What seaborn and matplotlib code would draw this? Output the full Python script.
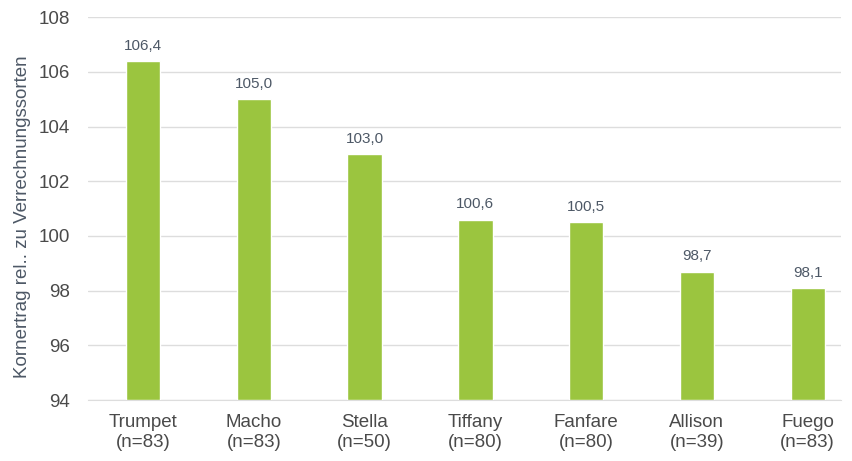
import matplotlib
matplotlib.use("Agg")
import matplotlib.pyplot as plt
import seaborn as sns
import pandas as pd

sorten = ["Trumpet", "Macho", "Stella", "Tiffany", "Fanfare", "Allison", "Fuego"]
n_werte = [83, 83, 50, 80, 80, 39, 83]
ertrag_rel = [106.4, 105.0, 103.0, 100.6, 100.5, 98.7, 98.1]
y_ticks = [94, 96, 98, 100, 102, 104, 106, 108]

df = pd.DataFrame({
    "label": [f"{s}\n(n={n})" for s, n in zip(sorten, n_werte)],
    "wert": ertrag_rel,
})

sns.set_style("white")
plt.rcParams["font.family"] = ["Liberation Sans", "DejaVu Sans"]

txt = "#4d5866"
fig = plt.figure(figsize=(8.52, 4.61), dpi=100)
ax = fig.add_axes([0.103, 0.132, 0.884, 0.831])

sns.barplot(data=df, x="label", y="wert", color="#9bc53f", saturation=1,
            width=0.31, ax=ax, zorder=3)

# Balken ab 94 zeichnen
for p in ax.patches:
    h = p.get_height()
    p.set_y(94)
    p.set_height(h - 94)

ax.set_ylim(94, 108)
ax.set_xlim(-0.5, 6.3)
ax.set_yticks(y_ticks)
ax.yaxis.grid(True, color="#dddddd", linewidth=1, zorder=0)
for s in ["top", "right", "left"]:
    ax.spines[s].set_visible(False)
ax.spines["bottom"].set_color("#dddddd")

for i, v in enumerate(ertrag_rel):
    ax.text(i, v + 0.3, f"{v:.1f}".replace(".", ","), ha="center", va="bottom",
            fontsize=11, color=txt)

ax.set_xlabel("")
ax.set_ylabel("Kornertrag rel.. zu Verrechnungssorten", fontsize=13.5, color=txt)
ax.yaxis.set_label_coords(-0.075, 0.48)
ax.tick_params(axis="x", length=0, labelsize=13.5, colors="#4a4a4a", pad=10)
ax.tick_params(axis="y", length=0, labelsize=13.5, colors="#4a4a4a", pad=13)
for t in ax.get_xticklabels():
    t.set_linespacing(1.2)

fig.savefig("out.png", dpi=100)
